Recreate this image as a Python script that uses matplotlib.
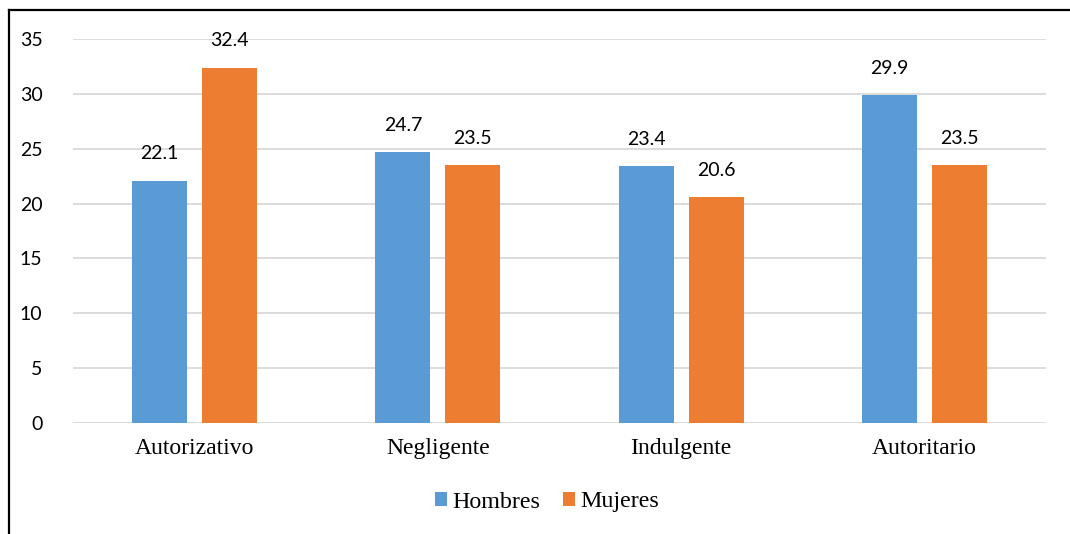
import matplotlib
matplotlib.use("Agg")
import matplotlib.pyplot as plt
from matplotlib.lines import Line2D
import numpy as np

categories = ["Autorizativo", "Negligente", "Indulgente", "Autoritario"]
hombres = [22.1, 24.7, 23.4, 29.9]
mujeres = [32.4, 23.5, 20.6, 23.5]
series_names = ["Hombres", "Mujeres"]
yticks = [0, 5, 10, 15, 20, 25, 30, 35]

blue = "#5B9BD5"
orange = "#ED7D31"

fig = plt.figure(figsize=(10.7, 5.34), dpi=100)
ax = fig.add_axes([73/1070, 111/534, (1046-73)/1070, (423-39)/534])

x = np.arange(len(categories))
w = 0.226
off = 0.144
b1 = ax.bar(x - off, hombres, w, color=blue, label=series_names[0], zorder=3)
b2 = ax.bar(x + off, mujeres, w, color=orange, label=series_names[1], zorder=3)

for bars, vals in ((b1, hombres), (b2, mujeres)):
    for r, v in zip(bars, vals):
        ax.annotate(f"{v:.1f}", (r.get_x() + r.get_width()/2, v),
                    xytext=(0, 13), textcoords="offset points",
                    ha="center", va="bottom", fontsize=14, family="Lato", color="#000000")

ax.set_xlim(-0.5, 3.5)
ax.set_ylim(0, 35)
ax.set_yticks(yticks)
ax.set_yticklabels([str(t) for t in yticks], family="Lato", fontsize=14)
ax.set_xticks(x)
ax.set_xticklabels(categories, family="Liberation Serif", fontsize=17)
ax.tick_params(axis="both", length=0)
ax.tick_params(axis="y", pad=22)
ax.tick_params(axis="x", pad=11)
ax.grid(axis="y", color="#D9D9D9", linewidth=1.3, zorder=0)
for s in ax.spines.values():
    s.set_visible(False)

leg = fig.legend(handles=[b1, b2], loc="center", bbox_to_anchor=(547/1070, 1 - 502/534),
                 ncol=2, frameon=False, prop={"family": "Liberation Serif", "size": 17.3},
                 handlelength=0.52, handleheight=0.52, handletextpad=0.2, columnspacing=0.95)

# outer border (left and top)
fig.add_artist(Line2D([9/1070, 9/1070], [0, 1 - 10/534], color="black", linewidth=1.6,
                      transform=fig.transFigure))
fig.add_artist(Line2D([9/1070, 1], [1 - 10/534, 1 - 10/534], color="black", linewidth=1.6,
                      transform=fig.transFigure))

fig.savefig("out.png", dpi=100)
